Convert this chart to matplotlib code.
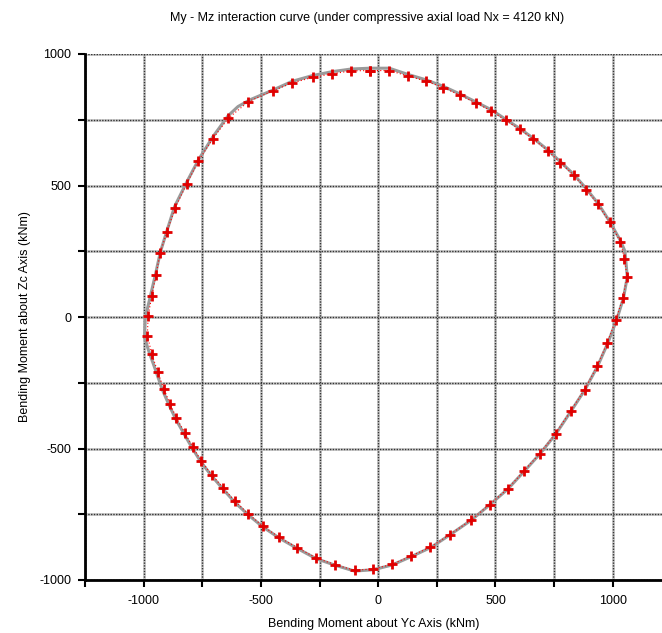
import numpy as np
import matplotlib
matplotlib.use('Agg')
import matplotlib.pyplot as plt
from matplotlib.ticker import MultipleLocator

plt.rcParams['font.family'] = ['Liberation Sans', 'DejaVu Sans']
plt.rcParams['axes.unicode_minus'] = False

# calculated points (red +), clockwise from the top
my_pts = [-34, 47, 128, 203, 278, 348, 416, 482, 543, 603, 662, 722, 777, 834, 888,
          938, 987, 1033, 1050, 1061, 1043, 1014, 976, 934, 880, 820, 756, 688, 620,
          552, 475, 394, 306, 223, 139, 57, -21, -101, -183, -264, -345, -421, -492,
          -554, -611, -662, -710, -754, -790, -824, -860, -888, -914, -940, -965, -984,
          -981, -965, -947, -930, -900, -866, -817, -767, -705, -639, -553, -450, -367,
          -280, -195, -114, -34]
mz_pts = [937, 937, 916, 897, 872, 844, 814, 784, 748, 714, 676, 633, 587, 539, 484,
          428, 360, 286, 222, 153, 73, -10, -99, -186, -276, -358, -444, -520, -587,
          -653, -713, -773, -827, -875, -909, -941, -958, -963, -942, -916, -877, -838,
          -795, -748, -700, -649, -599, -548, -495, -441, -384, -329, -273, -208, -141,
          -71, 3, 81, 160, 243, 325, 414, 505, 593, 678, 756, 819, 860, 890, 911, 925,
          936, 937]

# grey envelope curve
my_env = [-34, 47, 128, 203, 278, 348, 416, 482, 543, 603, 662, 722, 777, 834, 888,
          938, 987, 1033, 1052, 1062, 1046, 1017, 979, 936, 882, 822, 758, 690, 622,
          554, 477, 396, 308, 225, 141, 59, -21, -101, -183, -264, -345, -421, -492,
          -556, -613, -664, -712, -756, -793, -828, -864, -893, -921, -950, -978, -996,
          -993, -972, -950, -929, -900, -868, -818, -766, -705, -640, -598, -546, -446,
          -367, -280, -195, -114, -34]
mz_env = [946, 946, 922, 902, 877, 848, 818, 788, 752, 717, 679, 636, 590, 542, 487,
          431, 363, 290, 250, 153, 73, -10, -99, -186, -276, -358, -444, -520, -587,
          -653, -713, -773, -827, -876, -911, -943, -961, -966, -944, -919, -880, -841,
          -798, -751, -703, -652, -602, -551, -498, -444, -387, -332, -275, -200, -130,
          -78, -3, 77, 160, 246, 330, 420, 510, 598, 685, 765, 800, 826, 864, 896, 918,
          933, 943, 946]

fig = plt.figure(figsize=(6.62, 6.33), dpi=100)
ax = fig.add_axes([85 / 662, 1 - 580 / 633, 1 - 85 / 662, (580 - 54) / 633])

ax.set_xlim(-1250, 1210)
ax.set_ylim(-1000, 1000)

# grid: light grey line with dark dots over it
for v in np.arange(-1250, 1251, 250):
    ax.axvline(v, color='#c8c8c8', lw=2, zorder=0)
    ax.axvline(v, color='#333333', lw=1, ls=(0, (1, 1)), zorder=0.5)
for v in np.arange(-1000, 1001, 250):
    ax.axhline(v, color='#c8c8c8', lw=2, zorder=0)
    ax.axhline(v, color='#333333', lw=1, ls=(0, (1, 1)), zorder=0.5)

ax.plot(my_env, mz_env, color='#9a9a9a', lw=2.2, zorder=2)
ax.plot(my_pts, mz_pts, color='red', lw=0.8, ls=(0, (1, 2)), zorder=3)
ax.plot(my_pts, mz_pts, ls='none', marker='+', ms=7, mew=2, color='#e00000', zorder=4)

ax.xaxis.set_major_locator(MultipleLocator(500))
ax.xaxis.set_minor_locator(MultipleLocator(250))
ax.yaxis.set_major_locator(MultipleLocator(500))
ax.yaxis.set_minor_locator(MultipleLocator(250))
ax.tick_params(which='both', direction='out', length=5, width=1.5, labelsize=9)
ax.tick_params(axis='x', pad=6)
ax.tick_params(axis='y', pad=5)

for s in ['top', 'right']:
    ax.spines[s].set_visible(False)
ax.spines['left'].set_linewidth(2)
ax.spines['bottom'].set_linewidth(2)

ax.set_xlabel('Bending Moment about Yc Axis (kNm)', fontsize=9, labelpad=8)
ax.set_ylabel('Bending Moment about Zc Axis (kNm)', fontsize=9, labelpad=6)
fig.text(0.555, 0.972, 'My - Mz interaction curve (under compressive axial load Nx = 4120 kN)',
         ha='center', va='center', fontsize=9)

fig.savefig('out.png', dpi=100)
